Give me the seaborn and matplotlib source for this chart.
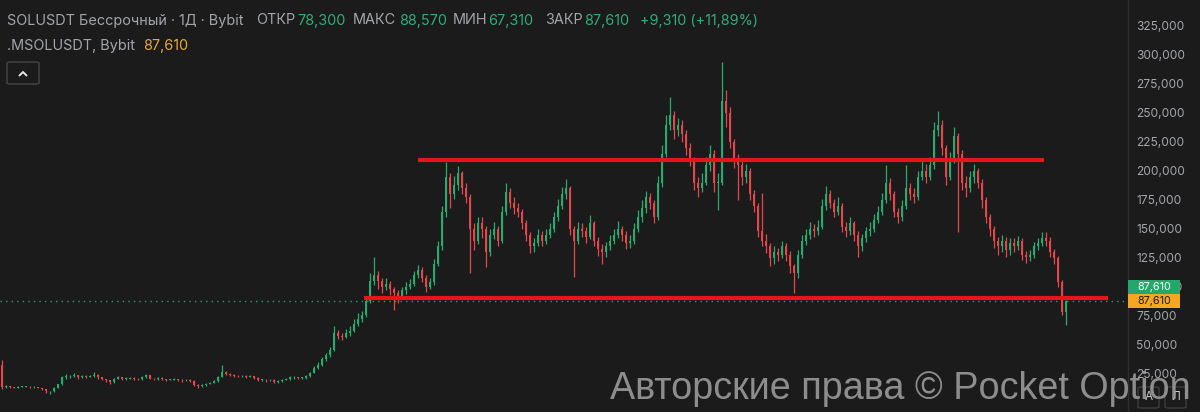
import matplotlib
matplotlib.use("Agg")
import matplotlib.pyplot as plt
from matplotlib.lines import Line2D
from matplotlib.patches import FancyBboxPatch, Rectangle
import numpy as np
import pandas as pd
import seaborn as sns

# --- data (one candle per ~4 screen pixels) --------------------------------
first_open = 33.0

closes = [
    14, 14.5, 13.5, 13, 14, 14, 14, 13.5, 14, 13,
    12, 10, 10, 13, 16, 22, 23, 23, 24, 22,
    23, 22.5, 23, 24.5, 22, 20.5, 19.5, 18, 21, 22,
    21, 21, 21.5, 21, 20.5, 22, 24, 21, 20.5, 21.5,
    20.5, 20, 20, 20.5, 20, 19.5, 20, 19, 15.5, 14.5,
    15.5, 16.5, 17.5, 19, 22.5, 27, 25, 24, 23.5, 23,
    23.5, 22.5, 23, 21.5, 20, 20, 19.5, 20, 18, 19,
    20, 20.5, 22, 22, 21.5, 21.5, 23, 26, 30, 33,
    38, 41, 46, 60, 58, 57, 60, 62, 68, 72,
    76, 88, 105, 110, 105, 100, 103, 98, 95, 92,
    97, 100, 103, 110, 115, 108, 100, 104, 120, 135,
    165, 195, 180, 188, 198, 185, 178, 150, 140, 155,
    150, 130, 145, 150, 140, 165, 182, 172, 168, 165,
    155, 145, 135, 138, 145, 140, 145, 150, 160, 170,
    180, 185, 150, 140, 150, 148, 143, 155, 140, 133,
    130, 135, 140, 145, 150, 145, 138, 140, 150, 160,
    168, 178, 172, 160, 190, 215, 240, 248, 235, 240,
    232, 220, 210, 190, 185, 190, 205, 215, 190, 190,
    260, 250, 225, 210, 205, 195, 200, 180, 170, 148,
    140, 135, 125, 130, 128, 135, 128, 118, 112, 128,
    140, 145, 150, 148, 152, 170, 180, 172, 165, 170,
    152, 148, 155, 145, 135, 142, 148, 150, 158, 165,
    175, 190, 180, 165, 160, 170, 185, 180, 178, 195,
    200, 195, 205, 235, 240, 220, 195, 210, 230, 215,
    190, 185, 195, 200, 190, 175, 160, 150, 140, 135,
    140, 132, 138, 135, 140, 128, 126, 128, 135, 138,
    142, 140, 130, 125, 104, 78.3, 87.61,
]

highs = [
    37, 15.5, 15, 14, 14.5, 15, 14.5, 14.5, 14.5, 14.2,
    13.2, 12.2, 10.5, 13.5, 16.5, 23, 25, 24.5, 25.5, 24.5,
    24, 24, 24, 26.5, 25, 22.5, 21, 20, 21.5, 23,
    22.5, 22, 22.5, 22, 21.5, 23, 25, 24.5, 21.5, 22.5,
    22, 21, 21, 21.5, 21, 20.5, 21, 20.5, 19.5, 16,
    16, 17, 18, 19.5, 23, 32.5, 28, 25.5, 25, 24,
    24.5, 24, 24, 23.5, 22, 21, 20.5, 21, 20.5, 19.5,
    21, 21.5, 23, 23, 22.5, 22.5, 24, 27, 31.5, 35,
    40, 43, 48, 66, 63, 60, 64, 66, 72, 78,
    79, 92, 112, 126, 114, 108, 108, 105, 100, 97,
    100, 104, 107, 114, 119, 117, 110, 108, 124, 140,
    170, 208, 198, 196, 204, 200, 190, 180, 155, 160,
    160, 153, 150, 156, 153, 170, 190, 185, 178, 172,
    167, 158, 147, 142, 150, 148, 150, 155, 165, 176,
    186, 193, 187, 153, 156, 155, 152, 162, 157, 143,
    137, 139, 145, 150, 157, 153, 148, 145, 155, 166,
    175, 183, 181, 175, 196, 222, 248, 264, 252, 246,
    244, 235, 224, 212, 195, 198, 212, 222, 218, 198,
    294, 270, 255, 228, 215, 210, 206, 203, 184, 172,
    181, 146, 138, 135, 134, 140, 138, 131, 120, 132,
    145, 150, 156, 154, 158, 176, 187, 184, 176, 178,
    172, 156, 160, 157, 148, 146, 152, 156, 163, 170,
    181, 205, 194, 183, 168, 175, 205, 190, 185, 200,
    209, 206, 212, 242, 252, 244, 222, 216, 238, 233,
    218, 196, 200, 206, 203, 193, 178, 163, 153, 143,
    145, 143, 142, 142, 144, 142, 131, 132, 139, 142,
    147, 147, 143, 133, 127, 106, 88.57,
]

lows = [
    12, 13, 13, 12.5, 12.5, 13.5, 13.5, 13, 13, 12.5,
    11.5, 9, 8, 9.5, 12.5, 15.5, 21, 21.5, 22.5, 21,
    21.5, 21.5, 22, 22.5, 21, 19.5, 18.5, 16.5, 17.5, 20.5,
    20, 20, 20.5, 20, 19.5, 20, 21.5, 20.5, 19.5, 20,
    20, 19, 19.5, 19.5, 19, 18.5, 19, 18.5, 15, 13,
    14, 15, 16, 17, 18.5, 22, 24, 23, 22.5, 22,
    22.5, 21.5, 22, 20.5, 19, 19, 18.5, 19, 17, 17.5,
    18.5, 19.5, 20, 21, 20.5, 20.5, 21, 22.5, 25.5, 29,
    32, 36, 40, 45, 55, 54, 56, 58, 61, 66,
    70, 74, 86, 102, 98, 95, 97, 93, 80, 86,
    90, 94, 98, 101, 108, 104, 96, 98, 102, 118,
    132, 160, 168, 176, 184, 180, 172, 112, 132, 137,
    142, 117, 127, 141, 135, 138, 162, 168, 163, 160,
    150, 140, 129, 130, 135, 135, 137, 142, 147, 157,
    167, 176, 145, 109, 137, 143, 138, 141, 135, 127,
    120, 126, 132, 137, 142, 140, 133, 134, 137, 147,
    156, 164, 167, 155, 158, 186, 212, 235, 228, 230,
    225, 214, 204, 184, 178, 182, 188, 200, 182, 166,
    188, 238, 220, 203, 175, 188, 190, 175, 165, 143,
    135, 129, 118, 120, 122, 125, 122, 112, 95, 108,
    125, 136, 141, 143, 145, 150, 166, 168, 160, 162,
    147, 143, 145, 140, 126, 131, 139, 144, 147, 155,
    162, 172, 175, 160, 155, 157, 167, 175, 172, 175,
    192, 190, 192, 202, 230, 214, 188, 192, 207, 147,
    184, 178, 182, 190, 185, 168, 155, 144, 134, 128,
    130, 126, 128, 130, 132, 123, 121, 122, 125, 132,
    135, 135, 126, 120, 100, 76, 67.31,
]

# hand-drawn support / resistance lines: price, first candle, last candle
level_prices = [209.5, 90.5]
level_starts = [104, 90.5]
level_ends = [260.5, 276.5]

price_ticks = [25, 50, 75, 100, 125, 150, 175, 200, 225, 250, 275, 300, 325]

header_line1 = [
    ("SOLUSDT Бессрочный · 1Д · Bybit", 7, "grey"),
    ("ОТКР", 256, "grey"), ("78,300", 297, "green"),
    ("МАКС", 353, "grey"), ("88,570", 399, "green"),
    ("МИН", 453, "grey"), ("67,310", 488, "green"),
    ("ЗАКР", 545, "grey"), ("87,610", 584, "green"),
    ("+9,310 (+11,89%)", 640, "green"),
]
header_line2 = [
    (".MSOLUSDT, Bybit", 7, "grey"),
    ("87,610", 143, "orange"),
]
watermark = "Авторские права © Pocket Option"

# --- style ----------------------------------------------------------------
W, H = 1200, 412
BG = "#1b1b1b"
TXT = "#a2a5ab"
TXT_GREEN = "#2fae79"
TXT_ORANGE = "#e6a93a"
UP = "#27ab6e"
DOWN = "#e3474c"
LEVEL = "#e3161b"
text_colors = {"grey": TXT, "green": TXT_GREEN, "orange": TXT_ORANGE}

sns.set_theme(style="dark", rc={
    "axes.facecolor": BG,
    "figure.facecolor": BG,
    "axes.grid": False,
})
plt.rcParams["font.family"] = ["Inter", "DejaVu Sans"]


def px(x, y):
    """Screen pixel (top-left origin) -> figure fraction."""
    return x / W, 1 - y / H


fig = plt.figure(figsize=(W / 100, H / 100), dpi=100)
ax = fig.add_axes([0, 0, 1128 / W, 1])

df = pd.DataFrame({"close": closes, "high": highs, "low": lows})
df["open"] = [first_open] + closes[:-1]
df["idx"] = np.arange(len(df))
df["color"] = np.where(df["close"] >= df["open"], UP, DOWN)
body_low = df[["open", "close"]].min(axis=1)
body_height = (df["close"] - df["open"]).abs().clip(lower=0.6)

ax.vlines(df["idx"], df["low"], df["high"], colors=df["color"], linewidth=0.9, zorder=2)
ax.bar(df["idx"], body_height, bottom=body_low, width=0.62,
       color=df["color"], linewidth=0, zorder=3)

ax.axhline(closes[-1], color="#2b9b6e", linestyle=(0, (1, 3)), linewidth=1, zorder=1)
ax.hlines(level_prices, level_starts, level_ends, colors=LEVEL, linewidth=3.0, zorder=5)

ax.set_xlim(-0.5, 281.5)
ax.set_ylim(-7.76, 347.4)
ax.set_xticks([])
ax.yaxis.tick_right()
ax.set_yticks(price_ticks)
ax.set_yticklabels([f"{v:.3f}".replace(".", ",") for v in price_ticks])
ax.tick_params(axis="y", length=0, pad=5.8, labelsize=8.6, labelcolor=TXT)
for name, spine in ax.spines.items():
    spine.set_visible(name == "right")
ax.spines["right"].set_color("#2e2e2e")
ax.spines["right"].set_linewidth(1)

# last-price tags on the price scale
last_y = ax.transData.transform((0, closes[-1]))[1]
tag_h = 14 / H
for dy, face, fg in [(0, "#f5a623", "#1a1a1a"), (14.5, "#22a86b", "#ffffff")]:
    yc = last_y / H + dy / H
    fig.add_artist(Rectangle((1128 / W, yc - tag_h / 2), 52 / W, tag_h,
                             transform=fig.transFigure, facecolor=face,
                             edgecolor="none", zorder=6))
    fig.text(1154 / W, yc, f"{closes[-1]:.3f}".replace(".", ","), color=fg,
             fontsize=7.8, ha="center", va="center", zorder=7)

# header
for label, x, col in header_line1:
    fig.text(*px(x, 20.5), label, color=text_colors[col], fontsize=10.4, va="center")
for label, x, col in header_line2:
    fig.text(*px(x, 46), label, color=text_colors[col], fontsize=10.4, va="center")

# collapse button
bx, by = px(7, 84)
fig.add_artist(FancyBboxPatch((bx, by), 32 / W, 22 / H, transform=fig.transFigure,
                              boxstyle="round,pad=0,rounding_size=0.003",
                              facecolor="none", edgecolor="#474747", linewidth=1))
chev = [px(19.5, 75.5), px(23, 72), px(26.5, 75.5)]
fig.add_artist(Line2D([p[0] for p in chev], [p[1] for p in chev],
                      transform=fig.transFigure, color="#e6e6e6", linewidth=1.4))

# scale buttons bottom right
for x0, glyph in [(1138, "A"), (1165, "Л")]:
    fx, fy = px(x0, 408)
    fig.add_artist(FancyBboxPatch((fx, fy), 21 / W, 21 / H, transform=fig.transFigure,
                                  boxstyle="round,pad=0,rounding_size=0.003",
                                  facecolor=BG, edgecolor="#3d3d3d", linewidth=1, zorder=6))
    fig.text(*px(x0 + 10.5, 397.5), glyph, color="#c8c8c8", fontsize=8.5,
             ha="center", va="center", zorder=7)

# watermark, sized to its on-screen width
wm = fig.text(*px(610, 399), watermark, color="#9a9a9a", alpha=0.9,
              fontsize=28, family=["Liberation Sans", "DejaVu Sans"],
              va="baseline", zorder=8)
renderer = fig.canvas.get_renderer()
width = wm.get_window_extent(renderer).width
wm.set_fontsize(28 * 580 / width)

fig.savefig("out.png", dpi=100, facecolor=BG)
